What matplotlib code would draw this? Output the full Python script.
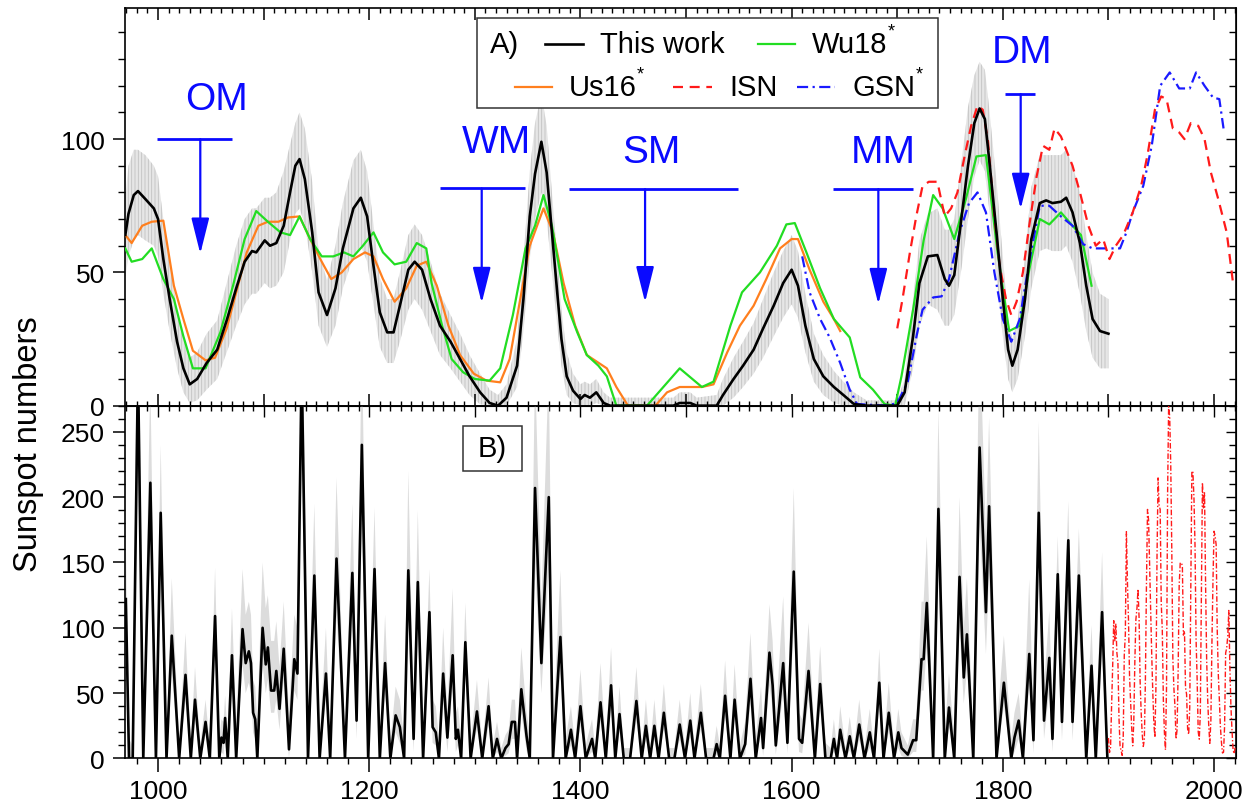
import matplotlib
matplotlib.use("Agg")
import matplotlib.pyplot as plt
from matplotlib.ticker import MultipleLocator
from matplotlib.patches import Rectangle
from matplotlib.lines import Line2D

plt.rcParams['font.family'] = ['Liberation Sans', 'DejaVu Sans']
plt.rcParams['hatch.linewidth'] = 0.6

# ---------------- Panel A data ----------------
tw_year = [969, 972, 977, 981, 988, 996, 1000, 1005, 1011, 1018, 1024, 1030, 1037, 1046, 1056,
           1065, 1074, 1082, 1089, 1093, 1101, 1106, 1112, 1119, 1125, 1130, 1134, 1139, 1146,
           1152, 1160, 1168, 1175, 1185, 1192, 1198, 1204, 1210, 1217, 1223, 1229, 1237, 1243,
           1250, 1258, 1267, 1277, 1286, 1295, 1305, 1314, 1322, 1330, 1340, 1346, 1352, 1357,
           1363, 1368, 1373, 1378, 1382, 1387, 1393, 1400, 1404, 1409, 1415, 1422, 1428, 1470,
           1488, 1494, 1504, 1510, 1529, 1535, 1545, 1554, 1564, 1573, 1583, 1592, 1600, 1606,
           1613, 1621, 1630, 1640, 1649, 1659, 1671, 1700, 1707, 1715, 1721, 1729, 1738, 1745,
           1749, 1754, 1761, 1767, 1773, 1778, 1783, 1787, 1794, 1800, 1805, 1809, 1814, 1821,
           1827, 1835, 1841, 1847, 1855, 1860, 1866, 1873, 1879, 1885, 1892, 1900]
tw_sn = [64, 72, 79, 80.5, 77.5, 74, 70, 55, 40, 24, 14, 8, 10, 16, 21,
         32, 44, 54, 58, 57.5, 62, 60, 61, 67.5, 80, 90, 92.5, 85, 65,
         42.5, 34, 44, 59, 74, 78, 71, 52.5, 35, 27.5, 27.5, 37.5, 51, 54,
         51, 40, 30, 24, 17.5, 11, 5, 1, 0, 3, 15, 40, 71, 87,
         99, 87.5, 65, 42.5, 25, 11, 5.6, 2.5, 4, 3, 5, 1, 0, 0,
         0, 1, 1, 0, 0, 4, 10, 15, 21, 29, 37.5, 46, 51, 45,
         30, 17.5, 11, 7, 4, 0.6, 0, 0, 5, 26, 46, 56, 56.5, 47.5,
         45, 49, 71, 90, 106, 111.5, 107.5, 92.5, 65, 40, 21, 15, 21, 40,
         62.5, 76, 77, 76, 76.5, 78, 72.5, 61, 45, 32.5, 28, 27]
tw_lo = [48, 56, 62, 64, 62, 60, 56, 42, 28, 14, 5, 1, 2, 6, 10,
         20, 30, 38, 42, 42, 46, 44, 45, 50, 62, 72, 74, 68, 50,
         30, 22, 30, 44, 56, 60, 54, 38, 22, 16, 16, 24, 36, 40,
         36, 28, 19, 14, 9, 4, 0.5, 0, 0, 0, 7, 28, 55, 70,
         80, 70, 50, 30, 15, 4, 1, 0, 0, 0, 1, 0, 0, 0,
         0, 0, 0, 0, 0, 0, 3, 7, 12, 18, 26, 33, 38, 33,
         20, 9, 4, 1, 0, 0, 0, 0, 0, 14, 30, 38, 36, 30,
         30, 34, 52, 70, 86, 92, 88, 74, 48, 26, 10, 5, 10, 26,
         44, 58, 59, 58, 58, 60, 54, 42, 28, 18, 14, 14]
tw_hi = [78, 90, 96, 96, 94, 90, 86, 70, 54, 36, 25, 18, 20, 27, 32,
         46, 60, 70, 74, 74, 78, 78, 80, 88, 98, 106, 110, 104, 84,
         58, 47, 60, 76, 92, 96, 88, 68, 48, 40, 40, 50, 64, 68,
         64, 54, 42, 34, 27, 19, 12, 6, 4, 8, 25, 55, 88, 106,
         117, 105, 80, 56, 36, 20, 12, 8, 9, 8, 10, 5, 3, 3,
         3, 5, 5, 3, 4, 10, 18, 24, 31, 40, 50, 58, 64, 58,
         42, 27, 19, 13, 9, 5, 2, 2, 10, 40, 62, 72, 74, 66,
         66, 70, 92, 112, 124, 129, 126, 112, 84, 56, 32, 25, 32, 56,
         82, 94, 94, 94, 94, 96, 90, 80, 64, 50, 42, 40]

wu_year = [969, 975, 985, 994, 1005, 1015, 1024, 1033, 1045, 1059, 1071, 1082, 1093, 1104,
           1116, 1125, 1134, 1144, 1155, 1166, 1176, 1185, 1194, 1204, 1213, 1224, 1235,
           1245, 1254, 1259, 1269, 1278, 1289, 1300, 1314, 1324, 1336, 1348, 1357, 1365,
           1373, 1385, 1397, 1406, 1417, 1425, 1434, 1463, 1494, 1515, 1526, 1542, 1553,
           1570, 1586, 1595, 1603, 1614, 1627, 1640, 1655, 1665, 1677, 1688, 1698, 1704,
           1715, 1725, 1734, 1743, 1754, 1765, 1775, 1784, 1795, 1806, 1816, 1825, 1835,
           1844, 1855, 1866, 1874, 1884]
wu_sn = [59, 54, 55, 59, 47.5, 40, 26, 14, 14, 27.5, 45, 62.5, 73, 69,
         65, 64, 71, 62.5, 56, 56, 57.5, 56, 60, 65, 57.5, 53, 54,
         61, 59, 46, 30, 17.5, 12.5, 10, 9.4, 14, 34, 59, 67.5, 79,
         67.5, 40, 27.5, 19, 15, 11, 0, 0, 14, 7, 9, 30, 42.5,
         50, 60, 68, 68.5, 57.5, 44, 32.5, 25.6, 10.6, 6, 0.6, 0, 11,
         36, 62, 79, 74, 62.5, 77.5, 93.5, 94, 57.5, 28, 30, 51, 70,
         68, 72.5, 67.5, 64, 45]

us_year = [969, 975, 985, 994, 1005, 1015, 1024, 1033, 1045, 1054, 1065, 1074, 1084, 1095,
           1104, 1114, 1123, 1134, 1144, 1155, 1164, 1174, 1185, 1196, 1204, 1213, 1224,
           1235, 1245, 1254, 1264, 1275, 1286, 1299, 1311, 1324, 1333, 1343, 1352, 1365,
           1374, 1384, 1395, 1406, 1425, 1434, 1445, 1471, 1482, 1494, 1515, 1526, 1539,
           1551, 1564, 1576, 1589, 1600, 1606, 1617, 1630, 1640, 1646]
us_sn = [64, 61, 67.5, 69, 69.4, 45, 32.5, 20.6, 17, 18, 29, 42.5, 57.5, 67.5,
         69, 69, 70.6, 71, 62.5, 54, 47.5, 50, 55, 57.5, 56, 47.5, 39,
         44, 52.5, 54, 45, 30, 19, 12, 9.4, 8.75, 17.5, 40, 60, 74,
         65, 46, 30, 19, 14, 7, 0, 0, 5, 7, 7, 8, 20,
         30, 37.5, 47.5, 59, 62.5, 62.5, 51, 39, 32.5, 28]

gsn_year = [1610, 1617, 1627, 1636, 1646, 1655, 1662, 1690, 1700, 1710, 1719, 1724, 1734,
            1742, 1749, 1759, 1768, 1776, 1784, 1792, 1800, 1808, 1816, 1825, 1835, 1844,
            1855, 1866, 1876, 1885, 1893, 1901, 1911, 1917, 1923, 1933, 1941, 1949, 1958,
            1967, 1977, 1983, 1991, 1999, 2005, 2009]
gsn_sn = [56, 42.5, 32.5, 25.6, 16, 6, 0.6, 0, 1, 9, 27.5, 36, 40.6,
          41, 47.5, 65, 76, 80, 72.5, 50, 32.5, 24, 32.5, 54, 75, 75,
          71, 67.5, 60.6, 59, 59, 59, 59, 65, 72.5, 82.5, 97.5, 120, 125,
          119, 119, 125, 120, 115.6, 115, 104]

isn_year = [1700, 1705, 1712, 1718, 1724, 1730, 1738, 1745, 1751, 1757, 1764, 1770, 1776,
            1781, 1786, 1792, 1797, 1803, 1808, 1813, 1819, 1825, 1832, 1838, 1844, 1849,
            1855, 1860, 1866, 1873, 1881, 1888, 1895, 1901, 1907, 1914, 1923, 1931, 1937,
            1944, 1950, 1955, 1961, 1967, 1972, 1978, 1985, 1991, 1997, 2004, 2012, 2018]
isn_sn = [29, 40, 57.5, 71, 82.5, 84, 84, 71, 74, 80, 94, 105, 112.5,
          111, 99, 71, 52.5, 40, 34, 39, 50, 67.5, 86, 97.5, 96, 104,
          101, 96, 90, 80, 67.5, 60, 62.5, 55, 60, 64, 72.5, 82.5, 94,
          111, 116, 115, 104, 102.5, 100, 106, 105, 100, 87.5, 77.5, 65, 46]

# ---------------- Panel B data ----------------
b_year = [969.5, 972.5, 976, 981, 986, 992.7, 998, 1002.5, 1008, 1013, 1020, 1026, 1031, 1035,
          1040, 1045, 1049, 1054, 1058, 1060, 1062, 1063.5, 1066, 1070, 1074, 1080, 1083, 1086,
          1088, 1090, 1092, 1094, 1099, 1102, 1104, 1107, 1110, 1112, 1115, 1119, 1124, 1129,
          1132, 1136, 1142, 1148, 1153, 1159, 1163, 1169, 1177, 1184, 1188, 1193, 1199, 1205,
          1210, 1215, 1220, 1225, 1229, 1233, 1237, 1242, 1246, 1251, 1257, 1260, 1263, 1266,
          1270, 1274, 1279, 1282, 1284, 1287, 1291, 1296, 1302, 1307, 1310, 1313, 1317, 1321,
          1325, 1329, 1332, 1335, 1338, 1340, 1344, 1349, 1352, 1357, 1363, 1370, 1374, 1381,
          1386, 1391, 1395, 1400, 1405, 1411, 1414, 1419, 1424, 1429, 1433, 1437, 1441, 1447,
          1453, 1458, 1462, 1466, 1470, 1474, 1479, 1484, 1489, 1494, 1499, 1504, 1508, 1514,
          1519, 1526, 1529, 1532, 1537, 1542, 1546, 1551, 1556, 1561, 1566, 1571, 1573, 1579,
          1582, 1585, 1592, 1596, 1602, 1607, 1610, 1616, 1622, 1627, 1632, 1637, 1640, 1643,
          1646, 1651, 1655, 1659, 1664, 1669, 1674, 1678, 1683, 1687, 1692, 1697, 1701, 1704,
          1710, 1715, 1718, 1723, 1725, 1728, 1734, 1739, 1745, 1749, 1754, 1759, 1763, 1766,
          1772, 1778, 1784, 1787, 1794, 1801, 1808, 1811, 1815, 1819, 1825, 1829, 1834, 1839,
          1844, 1847, 1852, 1856, 1862, 1866, 1872, 1879, 1884, 1888, 1894, 1899]
b_sn = [122, 0, 0, 300, 0, 211, 0, 188, 0, 94, 0, 64, 0, 45,
        0, 28, 0, 109, 0, 16, 12, 31, 0, 79, 0, 99, 73, 82,
        73, 35, 30, 0, 100, 72, 85, 52, 52, 67, 38, 84, 7, 76,
        65, 300, 0, 140, 0, 65, 0, 153, 0, 142, 29, 240, 0, 145,
        0, 73, 0, 33, 24, 0, 144, 15, 135, 0, 112, 24, 20, 0,
        65, 16, 79, 15, 22, 0, 89, 0, 36, 0, 20, 40, 0, 15,
        0, 8, 11, 28, 28, 0, 53, 17, 0, 207, 73, 200, 0, 93,
        0, 22, 0, 40, 0, 15, 0, 43, 0, 56, 0, 34, 0, 0,
        44, 0, 25, 0, 25, 0, 35, 0, 0, 26, 0, 29, 0, 35,
        0, 0, 11, 0, 48, 0, 45, 0, 11, 61, 0, 31, 8, 81,
        56, 10, 73, 12, 143, 15, 12, 67, 0, 57, 0, 0, 15, 0,
        22, 0, 17, 0, 26, 0, 20, 0, 58, 0, 35, 0, 20, 8,
        3, 14, 14, 76, 76, 119, 0, 191, 0, 39, 0, 139, 62, 95,
        0, 238, 112, 193, 0, 58, 0, 16, 29, 0, 80, 14, 188, 29,
        77, 15, 141, 28, 167, 28, 140, 0, 71, 0, 112, 0]
b_lo = [90, 0, 0, 230, 0, 160, 0, 140, 0, 65, 0, 44, 0, 30,
        0, 18, 0, 78, 0, 5, 3, 18, 0, 55, 0, 72, 50, 58,
        50, 20, 15, 0, 72, 50, 60, 35, 35, 45, 22, 60, 0, 52,
        45, 230, 0, 100, 0, 45, 0, 110, 0, 100, 15, 180, 0, 105,
        0, 50, 0, 20, 12, 0, 105, 5, 95, 0, 80, 12, 10, 0,
        45, 5, 55, 5, 10, 0, 62, 0, 22, 0, 10, 25, 0, 5,
        0, 2, 4, 15, 15, 0, 35, 6, 0, 150, 50, 145, 0, 65,
        0, 10, 0, 25, 0, 5, 0, 28, 0, 38, 0, 20, 0, 0,
        28, 0, 14, 0, 14, 0, 22, 0, 0, 14, 0, 16, 0, 22,
        0, 0, 3, 0, 32, 0, 30, 0, 3, 42, 0, 18, 2, 56,
        38, 3, 50, 4, 100, 5, 4, 45, 0, 38, 0, 0, 5, 0,
        10, 0, 6, 0, 14, 0, 8, 0, 40, 0, 20, 0, 8, 2,
        0, 5, 5, 52, 52, 85, 0, 140, 0, 24, 0, 100, 42, 68,
        0, 180, 80, 140, 0, 40, 0, 5, 15, 0, 55, 4, 135, 15,
        52, 5, 100, 14, 120, 14, 100, 0, 50, 0, 80, 0]
b_hi = [165, 15, 10, 400, 15, 290, 15, 240, 12, 138, 12, 96, 10, 70,
        10, 45, 10, 146, 15, 30, 28, 48, 18, 115, 25, 145, 110, 120,
        110, 60, 55, 30, 150, 115, 125, 90, 90, 105, 70, 120, 35, 110,
        100, 400, 20, 195, 15, 100, 15, 215, 15, 195, 50, 320, 15, 192,
        15, 110, 12, 55, 45, 15, 220, 35, 190, 15, 145, 45, 40, 15,
        100, 35, 130, 35, 40, 15, 119, 12, 60, 10, 35, 62, 10, 28,
        8, 18, 22, 45, 45, 15, 85, 35, 20, 300, 120, 300, 20, 144,
        15, 40, 10, 68, 10, 30, 8, 73, 10, 85, 10, 55, 8, 8,
        70, 8, 45, 8, 45, 8, 57, 8, 8, 45, 8, 50, 8, 57,
        8, 8, 25, 10, 75, 10, 72, 10, 28, 96, 15, 55, 25, 118,
        90, 30, 124, 30, 207, 35, 30, 104, 15, 86, 12, 8, 30, 8,
        40, 8, 32, 8, 45, 8, 38, 8, 84, 10, 58, 8, 38, 20,
        10, 30, 30, 120, 120, 170, 20, 267, 20, 65, 15, 200, 100, 138,
        20, 330, 170, 261, 20, 94, 15, 35, 50, 15, 137, 35, 258, 55,
        113, 35, 170, 50, 197, 50, 176, 20, 102, 15, 158, 15]

isn_ann_year = list(range(1900, 2021))
isn_ann_sn = [15.7, 4.6, 8.5, 40.8, 70.1, 105.5, 90.1, 102.8, 80.9, 73.2,
              30.9, 9.5, 6.0, 2.4, 16.1, 79.0, 95.0, 173.6, 134.6, 105.7,
              62.7, 43.5, 23.7, 9.7, 27.9, 74.0, 106.5, 114.7, 129.7, 108.2,
              59.4, 35.1, 18.6, 9.2, 14.6, 60.2, 132.8, 190.6, 182.6, 148.0,
              113.0, 79.2, 50.8, 27.1, 16.1, 55.3, 154.3, 214.7, 193.0, 190.7,
              118.9, 98.3, 45.0, 20.1, 6.6, 54.2, 200.7, 269.3, 261.7, 225.1,
              159.0, 76.4, 53.4, 39.9, 15.0, 22.0, 66.8, 132.9, 150.0, 149.4,
              148.0, 94.4, 97.6, 54.1, 49.2, 22.5, 18.4, 39.3, 131.0, 220.1,
              218.9, 198.9, 162.4, 91.0, 60.5, 20.6, 14.8, 33.9, 123.0, 211.1,
              191.8, 203.3, 133.0, 76.1, 44.9, 25.1, 11.6, 28.9, 88.3, 136.3,
              173.9, 170.4, 163.6, 99.3, 65.3, 45.8, 24.7, 12.6, 4.2, 4.8,
              24.9, 80.8, 84.5, 94.0, 113.3, 69.8, 39.8, 21.7, 7.0, 3.6, 8.8]

# Grand minima annotations: label, text x, text y, bar x0, bar x1, bar y, arrow x, arrow tip y
minima_labels = ['OM', 'WM', 'SM', 'MM', 'DM']
minima_text_xy = [(1055.6, 115), (1320.6, 98.8), (1467.5, 95), (1686.8, 95), (1817.9, 132.5)]
minima_bar = [(998.8, 1069.8, 100), (1266.8, 1347.8, 81.5), (1389.5, 1549.5, 81.25),
              (1639.5, 1715.3, 81.25), (1802, 1830, 116.9)]
minima_arrow = [(1040, 57), (1306.5, 38.5), (1461.2, 38.8), (1682.1, 38.1), (1816.9, 73.8)]

# ---------------- styles ----------------
st_tw = dict(color='black', lw=1.9)
st_wu = dict(color='#22dd22', lw=1.6)
st_us = dict(color='#ff7f1e', lw=1.6)
st_isn = dict(color='#ff1a1a', lw=1.6, linestyle=(0, (4.5, 3)))
st_gsn = dict(color='#1a1aff', lw=1.6, linestyle=(0, (5, 2, 1, 2)))
BLUE = '#0a0aff'
TICK_FS = 19
LEG_FS = 21

fig = plt.figure(figsize=(12.5, 8.04), dpi=100)
ax1 = fig.add_axes([0.1, 0.4942, 0.8888, 0.4940])
ax2 = fig.add_axes([0.1, 0.05535, 0.8888, 0.43885])
XL = (968.7, 2020.8)

# ---- Panel A ----
ax1.fill_between(tw_year, tw_lo, tw_hi, facecolor='#e6e6e6', edgecolor='#c2c2c2',
                 hatch='|||||', linewidth=0, zorder=1)
ax1.plot(us_year, us_sn, zorder=3, **st_us)
ax1.plot(wu_year, wu_sn, zorder=3, **st_wu)
ax1.plot(tw_year, tw_sn, zorder=4, **st_tw)
ax1.plot(gsn_year, gsn_sn, zorder=3, **st_gsn)
ax1.plot(isn_year, isn_sn, zorder=3, **st_isn)

for lab, (tx, ty), (bx0, bx1, by), (axx, ay) in zip(minima_labels, minima_text_xy,
                                                    minima_bar, minima_arrow):
    ax1.text(tx, ty, lab, color=BLUE, fontsize=28, ha='center', va='center', zorder=6)
    ax1.plot([bx0, bx1], [by, by], color=BLUE, lw=2.0, zorder=6, solid_capstyle='butt')
    ax1.annotate('', xy=(axx, ay), xytext=(axx, by),
                 arrowprops=dict(arrowstyle='-|>,head_length=2.2,head_width=0.55',
                                 mutation_scale=10, color=BLUE, lw=1.6,
                                 shrinkA=0, shrinkB=0), zorder=6)

ax1.set_xlim(*XL)
ax1.set_ylim(0, 149)
ax1.xaxis.set_major_locator(MultipleLocator(100))
ax1.xaxis.set_minor_locator(MultipleLocator(10))
ax1.tick_params(axis='x', which='both', direction='in', top=True, bottom=True,
                labelbottom=False)
ax1.tick_params(axis='x', which='major', length=8.5, width=1.1)
ax1.tick_params(axis='x', which='minor', length=3.6, width=1.0)
ax1.yaxis.set_major_locator(MultipleLocator(50))
ax1.yaxis.set_minor_locator(MultipleLocator(10))
ax1.tick_params(axis='y', which='both', direction='out', left=True, right=False,
                labelsize=TICK_FS, pad=6)
ax1.tick_params(axis='y', which='major', length=8.5, width=1.1)
ax1.tick_params(axis='y', which='minor', length=5, width=1.0)
s1 = ax1.secondary_yaxis('right')
s1.yaxis.set_major_locator(MultipleLocator(50))
s1.yaxis.set_minor_locator(MultipleLocator(10))
s1.tick_params(axis='y', which='both', direction='in', labelright=False, width=1.0)
s1.tick_params(axis='y', which='major', length=7)
s1.tick_params(axis='y', which='minor', length=5)

# manual legend (Origin-style free layout)
T = ax1.transAxes
ax1.add_patch(Rectangle((0.3168, 0.7491), 0.4150, 0.2269, transform=T, facecolor='white',
                        edgecolor='#333333', lw=1.1, zorder=7))
r1, r2 = 0.9106, 0.8024
ax1.text(0.3285, r1, 'A)', transform=T, fontsize=LEG_FS, va='center', ha='left', zorder=8)
entries = [((0.3780, 0.4122), r1, st_tw, 'This work', False),
           ((0.5698, 0.6031), r1, st_wu, 'Wu18', True),
           ((0.3510, 0.3843), r2, st_us, 'Us16', True),
           ((0.4932, 0.5284), r2, st_isn, 'ISN', False),
           ((0.6049, 0.6391), r2, st_gsn, 'GSN', True)]
for (x0, x1), yy, st, lab, star in entries:
    ax1.add_line(Line2D([x0, x1], [yy, yy], transform=T, zorder=8, **st))
    t = ax1.text(x1 + 0.0155, yy, lab, transform=T, fontsize=LEG_FS, va='center',
                 ha='left', zorder=8)
    if star:
        ax1.annotate('*', xy=(1.0, 0.95), xycoords=t, fontsize=13, ha='left',
                     va='center', zorder=8)

# ---- Panel B ----
ax2.fill_between(b_year, b_lo, b_hi, facecolor='#dcdcdc', linewidth=0, zorder=1)
ax2.plot(b_year, b_sn, color='black', lw=1.9, zorder=3)
ax2.plot(isn_ann_year, isn_ann_sn, color='#ff1a1a', lw=1.0,
         linestyle=(0, (4, 1.5, 1, 1.5)), zorder=3)
ax2.set_xlim(*XL)
ax2.set_ylim(0, 270)
ax2.xaxis.set_major_locator(MultipleLocator(200))
ax2.xaxis.set_minor_locator(MultipleLocator(20))
ax2.tick_params(axis='x', which='both', direction='out', top=False, bottom=True,
                labelsize=TICK_FS, pad=5)
ax2.tick_params(axis='x', which='major', length=10, width=1.1)
ax2.tick_params(axis='x', which='minor', length=4, width=1.0)
ax2.yaxis.set_major_locator(MultipleLocator(50))
ax2.yaxis.set_minor_locator(MultipleLocator(10))
ax2.tick_params(axis='y', which='both', direction='out', left=True, right=False,
                labelsize=TICK_FS, pad=6)
ax2.tick_params(axis='y', which='major', length=8.5, width=1.1)
ax2.tick_params(axis='y', which='minor', length=5, width=1.0)
s2 = ax2.secondary_yaxis('right')
s2.yaxis.set_major_locator(MultipleLocator(50))
s2.yaxis.set_minor_locator(MultipleLocator(10))
s2.tick_params(axis='y', which='both', direction='in', labelright=False, width=1.0)
s2.tick_params(axis='y', which='major', length=7)
s2.tick_params(axis='y', which='minor', length=5)
s2x = ax2.secondary_xaxis('top')
s2x.xaxis.set_major_locator(MultipleLocator(100))
s2x.xaxis.set_minor_locator(MultipleLocator(10))
s2x.tick_params(axis='x', which='both', direction='in', labeltop=False, width=1.0)
s2x.tick_params(axis='x', which='major', length=8)
s2x.tick_params(axis='x', which='minor', length=3.6)

ax2.add_patch(Rectangle((0.3042, 0.8149), 0.0531, 0.1276, transform=ax2.transAxes,
                        facecolor='white', edgecolor='#333333', lw=1.1, zorder=7))
ax2.text(0.3307, 0.8787, 'B)', transform=ax2.transAxes, fontsize=LEG_FS, ha='center',
         va='center', zorder=8)

for a in (ax1, ax2):
    for sp in a.spines.values():
        sp.set_linewidth(1.2)

fig.text(0.0228, 0.4478, 'Sunspot numbers', rotation=90, ha='center', va='center',
         fontsize=23.5)

fig.savefig('out.png', dpi=100)
